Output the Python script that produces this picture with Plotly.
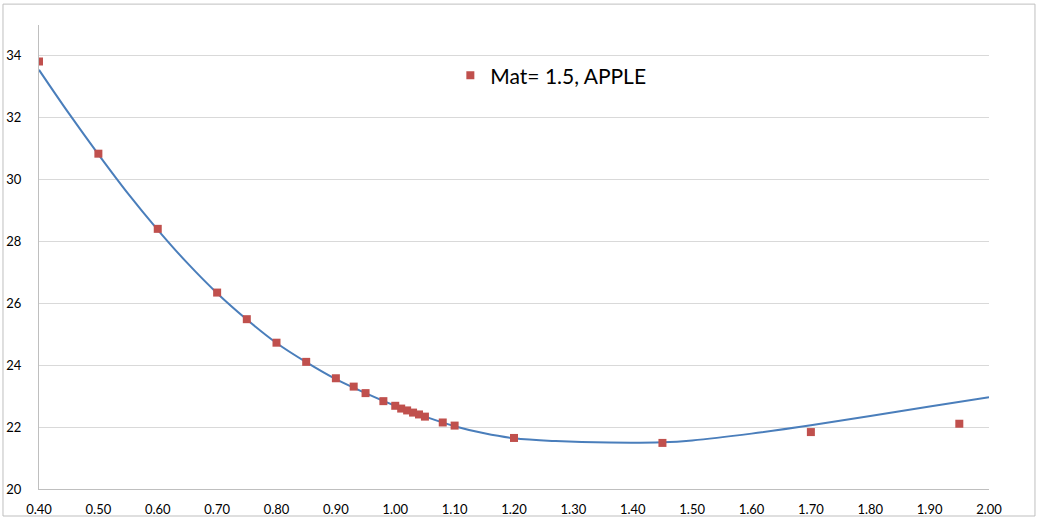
import plotly.graph_objects as go

# Observed data points (Mat = 1.5, APPLE)
moneyness = [0.40, 0.50, 0.60, 0.70, 0.75, 0.80, 0.85, 0.90, 0.93, 0.95, 0.98,
             1.00, 1.01, 1.02, 1.03, 1.04, 1.05, 1.08, 1.10, 1.20, 1.45, 1.70, 1.95]
vol = [33.82, 30.84, 28.41, 26.35, 25.49, 24.73, 24.11, 23.58, 23.31, 23.10, 22.84,
       22.69, 22.60, 22.54, 22.47, 22.41, 22.34, 22.15, 22.05, 21.65, 21.49, 21.84, 22.11]

# Fitted curve
fit_x = [0.40, 0.45, 0.50, 0.55, 0.60, 0.65, 0.70, 0.75, 0.80, 0.85, 0.90, 0.95,
         1.00, 1.05, 1.10, 1.15, 1.20, 1.27, 1.36, 1.45, 1.50, 1.60, 1.70, 1.80, 1.90, 2.00]
fit_y = [33.55, 32.15, 30.82, 29.55, 28.38, 27.30, 26.33, 25.48, 24.72, 24.10, 23.55, 23.10,
         22.69, 22.34, 22.03, 21.80, 21.64, 21.55, 21.50, 21.51, 21.57, 21.79, 22.06, 22.36, 22.67, 22.97]

x_ticks = [0.40, 0.50, 0.60, 0.70, 0.80, 0.90, 1.00, 1.10, 1.20, 1.30, 1.40, 1.50,
           1.60, 1.70, 1.80, 1.90, 2.00]
y_ticks = [20, 22, 24, 26, 28, 30, 32, 34]

font_family = "Lato, 'Liberation Sans', sans-serif"

fig = go.Figure()
fig.add_trace(go.Scatter(
    x=fit_x, y=fit_y, mode="lines", line=dict(color="#4a7ebb", width=2, shape="spline", smoothing=1.0),
    showlegend=False, hoverinfo="skip"))
fig.add_trace(go.Scatter(
    x=moneyness, y=vol, mode="markers", name="Mat= 1.5, APPLE",
    marker=dict(symbol="square", size=8, color="#c0504d")))

fig.update_layout(
    width=1038, height=521,
    margin=dict(l=39, r=49, t=25, b=32, autoexpand=False),
    paper_bgcolor="white", plot_bgcolor="white",
    font=dict(family=font_family, size=13, color="#000000"),
    legend=dict(x=0.433, y=0.935, xanchor="left", yanchor="top",
                font=dict(size=21, family=font_family), bgcolor="rgba(0,0,0,0)"),
    xaxis=dict(range=[0.40, 2.00], tickmode="array", tickvals=x_ticks,
               ticktext=[f"{v:.2f}" for v in x_ticks], showgrid=False, zeroline=False,
               showline=True, linecolor="#bfbfbf", linewidth=1, ticks="", ticklabelstandoff=8,
               automargin=False),
    yaxis=dict(range=[20, 35], tickmode="array", tickvals=y_ticks,
               showgrid=True, gridcolor="#d9d9d9", gridwidth=1, zeroline=False,
               showline=True, linecolor="#bfbfbf", linewidth=1, ticks="", ticklabelstandoff=14,
               automargin=False),
)

fig.add_shape(type="rect", xref="paper", yref="paper",
              x0=-0.0379, x1=1.0484, y0=-0.0582, y1=1.045,
              line=dict(color="#bfbfbf", width=1), fillcolor="rgba(0,0,0,0)", layer="below")

fig.write_html("out.html")
